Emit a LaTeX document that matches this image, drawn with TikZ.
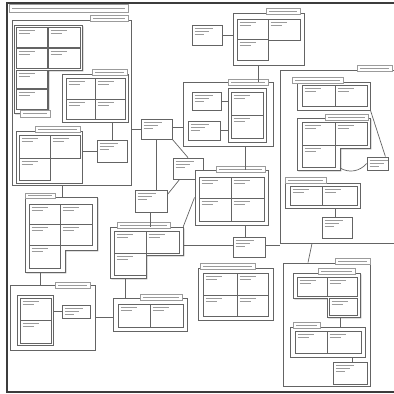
\documentclass[tikz,border=0pt]{standalone}
\usepackage{tikz}
\usetikzlibrary{fit,calc,shadows}
\definecolor{inkgray}{RGB}{100,100,100}
\definecolor{softgray}{RGB}{155,155,155}
\definecolor{pagegray}{RGB}{60,60,60}
\tikzset{
  pageline/.style={draw=pagegray, line width=1.3pt},
  group/.style={draw=inkgray, fill=white, line width=1pt, inner sep=0pt,
    drop shadow={shadow xshift=1.3pt, shadow yshift=-1.3pt, fill=softgray, opacity=0.9}},
  lshape/.style={draw=inkgray, fill=white, line width=1pt,
    drop shadow={shadow xshift=1.3pt, shadow yshift=-1.3pt, fill=softgray, opacity=0.9}},
  cellbox/.style={draw=inkgray, line width=0.7pt, inner sep=0pt},
  tabbox/.style={draw=softgray, fill=white, line width=0.5pt, inner sep=0pt},
  smallbox/.style={draw=inkgray, fill=white, line width=0.8pt, inner sep=0pt,
    drop shadow={shadow xshift=1pt, shadow yshift=-1pt, fill=softgray, opacity=0.9}},
  scrib/.style={draw=softgray, line width=0.9pt},
  conn/.style={draw=inkgray, line width=0.7pt}
}
% boxes by corner points: name, x1, y1, x2, y2
\newcommand{\groupat}[5]{\node[group, fit={(#2,#3) (#4,#5)}] (#1) {};}
\newcommand{\cellat}[5]{\node[cellbox, fit={(#2,#3) (#4,#5)}] (#1) {};
  \draw[scrib] ($(#1.north west)+(3pt,-4pt)$) -- ++(16,0)
               ($(#1.north west)+(3pt,-7pt)$) -- ++(11,0);}
\newcommand{\tabat}[5]{\node[tabbox, fit={(#2,#3) (#4,#5)}] (#1) {};
  \draw[scrib, line width=0.6pt] ($(#1.west)+(3pt,0)$) -- ($(#1.east)+(-3pt,0)$);}
\newcommand{\smallat}[5]{\node[smallbox, fit={(#2,#3) (#4,#5)}] (#1) {};
  \draw[scrib] ($(#1.north west)+(3pt,-4pt)$) -- ++(18,0)
               ($(#1.north west)+(3pt,-7pt)$) -- ++(14,0)
               ($(#1.north west)+(3pt,-10pt)$) -- ++(9,0);}

\begin{document}
\begin{tikzpicture}[x=1pt, y=-1pt]
  \useasboundingbox (0,0) rectangle (394,394);

  % Page frame and title
  \draw[pageline] (394,3) -- (7,3) -- (7,392) -- (394,392);
  \tabat{title}{9}{4}{128}{12}

  % Group A (top left)
  \groupat{aout}{12}{20}{131}{185}
  \tabat{atab}{90}{15}{128}{21}
  \draw[lshape] (14,25) -- (82,25) -- (82,70) -- (48,70) -- (48,113) -- (14,113) -- cycle;
  \cellat{a11}{16}{27}{47}{47}
  \cellat{a12}{48}{27}{80}{47}
  \cellat{a13}{16}{48}{47}{68}
  \cellat{a14}{48}{48}{80}{68}
  \cellat{a15}{16}{70}{47}{88}
  \cellat{a16}{16}{89}{47}{109}
  \tabat{a1tab}{20}{110}{50}{117}
  \groupat{a2}{62}{74}{128}{122}
  \tabat{a2tab}{92}{69}{127}{75}
  \cellat{a21}{66}{78}{95}{99}
  \cellat{a22}{95}{78}{125}{99}
  \cellat{a23}{66}{99}{95}{119}
  \cellat{a24}{95}{99}{125}{119}
  \groupat{a3}{16}{131}{82}{183}
  \tabat{a3tab}{35}{126}{80}{132}
  \cellat{a31}{19}{135}{50}{158}
  \cellat{a32}{50}{135}{80}{158}
  \cellat{a33}{19}{158}{50}{180}
  \smallat{a4}{97}{140}{127}{162}

  % Group B (top centre)
  \smallat{b1}{192}{25}{222}{45}
  \groupat{b2}{233}{13}{304}{65}
  \tabat{b2tab}{266}{8}{300}{14}
  \cellat{b21}{237}{19}{268}{39}
  \cellat{b22}{237}{39}{268}{60}
  \cellat{b23}{268}{19}{300}{40}

  % Group C (centre)
  \groupat{c}{183}{82}{273}{146}
  \tabat{ctab}{228}{79}{268}{85}
  \smallat{c1}{192}{92}{221}{110}
  \smallat{c2}{188}{121}{220}{140}
  \groupat{c3}{228}{88}{266}{142}
  \cellat{c31}{231}{92}{263}{115}
  \cellat{c32}{231}{115}{263}{138}

  % Small boxes in the middle
  \smallat{d}{141}{119}{172}{139}
  \smallat{e}{173}{158}{203}{179}
  \smallat{f}{135}{190}{167}{212}
  \smallat{j}{233}{237}{265}{257}

  % Group H
  \node[fit={(110,227) (183,278)}, inner sep=0pt] (h) {};
  \draw[lshape] (110,227) -- (183,227) -- (183,255) -- (146,255) -- (146,278) -- (110,278) -- cycle;
  \tabat{htab}{117}{222}{170}{228}
  \cellat{h1}{114}{231}{146}{253}
  \cellat{h2}{146}{231}{179}{253}
  \cellat{h3}{114}{253}{146}{275}

  % Group K
  \groupat{k}{195}{170}{268}{225}
  \tabat{ktab}{216}{166}{265}{172}
  \cellat{k1}{199}{177}{231}{198}
  \cellat{k2}{231}{177}{264}{198}
  \cellat{k3}{199}{198}{231}{221}
  \cellat{k4}{231}{198}{264}{221}

  % Group L (right)
  \groupat{lout}{280}{70}{400}{243}
  \tabat{ltab}{357}{65}{392}{71}
  \groupat{l1}{297}{82}{370}{110}
  \tabat{l1tab}{292}{77}{343}{83}
  \cellat{l11}{302}{85}{335}{106}
  \cellat{l12}{335}{85}{367}{106}
  \node[fit={(297,118) (370,170)}, inner sep=0pt] (l2) {};
  \draw[lshape] (297,118) -- (370,118) -- (370,148) -- (340,148) -- (340,170) -- (297,170) -- cycle;
  \tabat{l2tab}{325}{114}{368}{120}
  \cellat{l21}{302}{122}{335}{145}
  \cellat{l22}{335}{122}{367}{145}
  \cellat{l23}{302}{145}{335}{167}
  \smallat{l3}{367}{157}{388}{170}
  \groupat{l4}{285}{183}{360}{208}
  \tabat{l4tab}{285}{177}{326}{183}
  \cellat{l41}{290}{186}{322}{205}
  \cellat{l42}{322}{186}{357}{205}
  \smallat{l5}{322}{217}{352}{238}

  % Group M (bottom right)
  \groupat{mout}{283}{263}{370}{386}
  \tabat{mtab}{335}{258}{370}{264}
  \node[fit={(293,273) (360,317)}, inner sep=0pt] (m1) {};
  \draw[lshape] (293,273) -- (360,273) -- (360,317) -- (327,317) -- (327,298) -- (293,298) -- cycle;
  \tabat{m1tab}{318}{268}{355}{274}
  \cellat{m11}{297}{277}{327}{296}
  \cellat{m12}{327}{277}{357}{296}
  \cellat{m13}{329}{298}{357}{315}
  \groupat{m2}{290}{327}{365}{357}
  \tabat{m2tab}{293}{322}{320}{328}
  \cellat{m21}{295}{331}{327}{353}
  \cellat{m22}{327}{331}{361}{353}
  \smallat{m3}{333}{362}{367}{384}

  % Group N (bottom centre)
  \groupat{n}{198}{268}{273}{320}
  \tabat{ntab}{200}{263}{255}{269}
  \cellat{n1}{203}{273}{237}{295}
  \cellat{n2}{237}{273}{268}{295}
  \cellat{n3}{203}{295}{237}{316}
  \cellat{n4}{237}{295}{268}{316}

  % Group P (left middle)
  \node[fit={(25,197) (97,272)}, inner sep=0pt] (p) {};
  \draw[lshape] (25,197) -- (97,197) -- (97,250) -- (65,250) -- (65,272) -- (25,272) -- cycle;
  \tabat{ptab}{25}{193}{55}{198}
  \cellat{p1}{29}{204}{60}{224}
  \cellat{p2}{60}{204}{92}{224}
  \cellat{p3}{29}{224}{60}{245}
  \cellat{p4}{60}{224}{92}{245}
  \cellat{p5}{29}{245}{60}{268}

  % Group Q (bottom left)
  \groupat{q}{10}{285}{95}{350}
  \tabat{qtab}{55}{282}{90}{288}
  \groupat{q1}{17}{295}{53}{345}
  \cellat{q11}{20}{298}{51}{320}
  \cellat{q12}{20}{320}{51}{343}
  \smallat{q2}{62}{305}{90}{318}

  % Group R
  \groupat{r}{113}{298}{187}{331}
  \tabat{rtab}{140}{294}{182}{300}
  \cellat{r1}{118}{304}{150}{327}
  \cellat{r2}{150}{304}{183}{327}

  % Connectors
  \draw[conn] (a4.north) -- (a4.north |- a2.south);
  \draw[conn] (a3.east |- a4.west) -- (a4.west);
  \draw[conn] (aout.east |- d.west) -- (d.west);
  \draw[conn] (p.north -| 62,0) -- (aout.south -| 62,0);
  \draw[conn] (b1.east) -- (b1.east -| b2.west);
  \draw[conn] (c.north -| 258,0) -- (b2.south -| 258,0);
  \draw[conn] (c1.east) -- (c1.east -| c3.west);
  \draw[conn] (c2.east) -- (c2.east -| c3.west);
  \draw[conn] (d.east |- 0,127) -- (c.west |- 0,127);
  \draw[conn] (d.south east) -- (e.north);
  \draw[conn] (d.south) -- (d.south |- f.north);
  \draw[conn] ($(e.south west)+(7pt,0)$) -- ($(f.north east)+(0,-5pt)$);
  \draw[conn] (f.south -| 150,0) -- (h.north -| 150,0);
  \draw[conn] (h.north east) -- (k.west);
  \draw[conn] (h.east |- 0,245) -- (j.west |- 0,245);
  \draw[conn] (h.south -| 125,0) -- (r.north -| 125,0);
  \draw[conn] (c.south -| 245,0) -- (k.north -| 245,0);
  \draw[conn] (k.south -| 245,0) -- (j.north -| 245,0);
  \draw[conn] (j.east |- 0,245) -- (lout.west |- 0,245);
  \draw[conn] (l1.south east) -- ($(l3.north east)+(-3pt,0)$);
  \draw[conn] (340,168) to[bend right=40] (l3.west);
  \draw[conn] (l4.south -| 335,0) -- (l5.north -| 335,0);
  \draw[conn] (lout.south -| 312,0) -- (mout.north -| 308,0);
  \draw[conn] (m1.south -| 340,0) -- (m2.north -| 340,0);
  \draw[conn] (m2.south -| 352,0) -- (m3.north -| 352,0);
  \draw[conn] (p.south -| 40,0) -- (q.north -| 40,0);
  \draw[conn] (q1.east |- q2.west) -- (q2.west);
  \draw[conn] (q.east |- 0,317) -- (r.west |- 0,317);
\end{tikzpicture}
\end{document}
